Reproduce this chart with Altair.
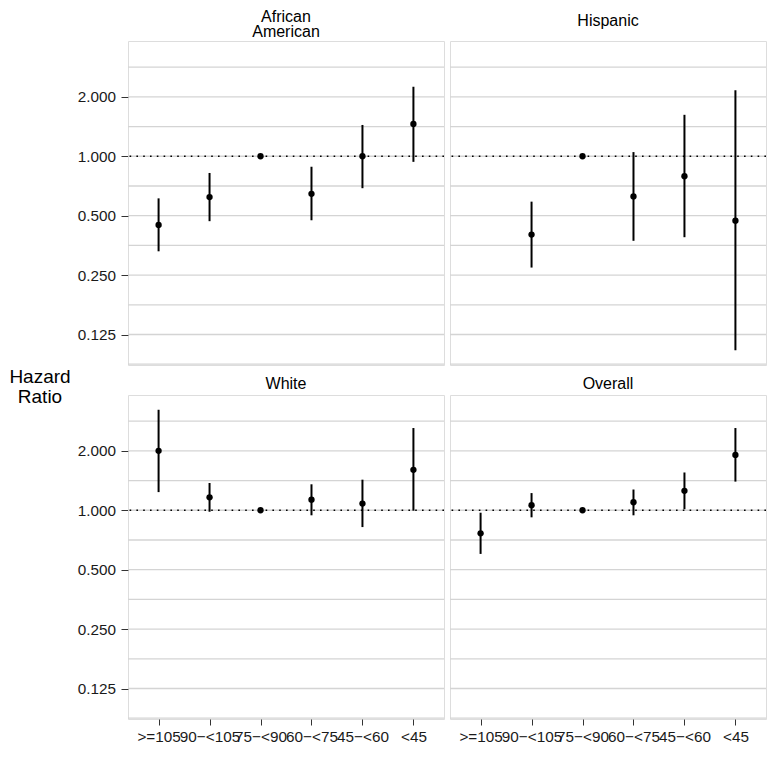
import altair as alt
import pandas as pd

FONT = "Liberation Sans"

groups = ["African American", "Hispanic", "White", "Overall"]
strip_labels = ["African\nAmerican", "Hispanic", "White", "Overall"]
categories = [">=105", "90\u2212<105", "75\u2212<90", "60\u2212<75", "45\u2212<60", "<45"]

# hazard ratios with 95% CI (None = not estimated)
aa_hr = [0.449, 0.621, 1.0, 0.645, 1.0, 1.458]
aa_lo = [0.330, 0.469, 1.0, 0.474, 0.689, 0.937]
aa_hi = [0.612, 0.823, 1.0, 0.885, 1.441, 2.25]

hi_hr = [None, 0.401, 1.0, 0.626, 0.792, 0.472]
hi_lo = [None, 0.273, 1.0, 0.373, 0.389, 0.104]
hi_hi = [None, 0.589, 1.0, 1.05, 1.622, 2.158]

wh_hr = [2.0, 1.163, 1.0, 1.132, 1.081, 1.602]
wh_lo = [1.236, 0.983, 1.0, 0.943, 0.822, 0.995]
wh_hi = [3.23, 1.375, 1.0, 1.354, 1.429, 2.61]

ov_hr = [0.764, 1.061, 1.0, 1.098, 1.255, 1.908]
ov_lo = [0.601, 0.921, 1.0, 0.943, 1.013, 1.397]
ov_hi = [0.972, 1.222, 1.0, 1.274, 1.554, 2.61]

major_breaks = [0.125, 0.25, 0.5, 1.0, 2.0]
grid_breaks = [0.0884, 0.125, 0.1768, 0.25, 0.3536, 0.5, 0.7071, 1.0, 1.4142, 2.0, 2.8284]
ref_value = [1.0]
y_domain = [0.0876, 3.837]

series = {
    "African American": (aa_hr, aa_lo, aa_hi),
    "Hispanic": (hi_hr, hi_lo, hi_hi),
    "White": (wh_hr, wh_lo, wh_hi),
    "Overall": (ov_hr, ov_lo, ov_hi),
}

W = 316
H = 324


def panel(idx, left, bottom):
    g = groups[idx]
    hr, lo, hi = series[g]
    rows = [
        {"cat": c, "hr": h, "lo": l, "hi": u}
        for c, h, l, u in zip(categories, hr, lo, hi)
        if h is not None
    ]
    df = pd.DataFrame(rows)

    yscale = alt.Scale(type="log", base=2, domain=y_domain, nice=False, zero=False)
    if left:
        yaxis = alt.Axis(
            values=major_breaks, format=".3f", grid=False, domain=False,
            tickSize=7, tickColor="#333333", labelPadding=5.5,
            labelFontSize=15.3, labelColor="#1a1a1a", labelFont=FONT,
            title=["Hazard", "Ratio"] if not bottom else None,
            titleAngle=0, titleAlign="center", titleBaseline="middle",
            titleX=-88.5, titleY=335, titleFontSize=19, titleFontWeight="normal",
            titleFont=FONT, titleColor="#000000", titleLineHeight=20.6,
        )
    else:
        yaxis = None

    xscale = alt.Scale(type="point", domain=categories, padding=0.6)
    if bottom:
        xaxis = alt.Axis(
            labelAngle=0, labelOverlap=False, labelFlush=False, grid=False,
            domain=False, tickSize=6, tickColor="#333333", labelPadding=4.5,
            labelFontSize=15.3, labelColor="#1a1a1a", labelFont=FONT, title=None,
        )
    else:
        xaxis = None

    def Y(field):
        return alt.Y(field, type="quantitative", scale=yscale, axis=yaxis, title=None)

    X = alt.X("cat:N", scale=xscale, axis=xaxis, title=None)

    grid = alt.Chart(pd.DataFrame({"v": grid_breaks})).mark_rule(
        color="#d4d4d4", strokeWidth=1.3
    ).encode(y=Y("v"))
    ref = alt.Chart(pd.DataFrame({"v": ref_value})).mark_rule(
        color="#000000", strokeWidth=1.6, strokeDash=[1.6, 5.2]
    ).encode(y=Y("v"))
    bars = alt.Chart(df).mark_rule(color="#000000", strokeWidth=2).encode(
        x=X, y=Y("lo"), y2="hi"
    )
    pts = alt.Chart(df).mark_circle(color="#000000", opacity=1, size=40).encode(
        x=X, y=Y("hr")
    )
    two_lines = "\n" in strip_labels[idx]
    strip_y = -11.5 if bottom else (-24.5 if two_lines else -20.5)
    strip = alt.Chart(pd.DataFrame({"label": [strip_labels[idx]]})).mark_text(
        font=FONT, fontSize=16, color="#000000", baseline="middle", align="center",
        lineBreak="\n", lineHeight=15.5,
    ).encode(
        x=alt.value(W / 2), y=alt.value(strip_y), text="label:N"
    )
    return alt.layer(grid, ref, bars, pts, strip).properties(width=W, height=H)


chart = alt.concat(
    panel(0, True, False), panel(1, False, False),
    panel(2, True, True), panel(3, False, True),
    columns=2, spacing={"row": 30, "column": 6}, bounds="flush",
).properties(
    padding={"left": 0, "top": 0, "right": 0, "bottom": 0}
).configure_view(
    stroke="#8f8f8f", strokeWidth=1
).configure(background="white")

chart.save("out.html", embed_options={"renderer": "svg", "actions": False})
